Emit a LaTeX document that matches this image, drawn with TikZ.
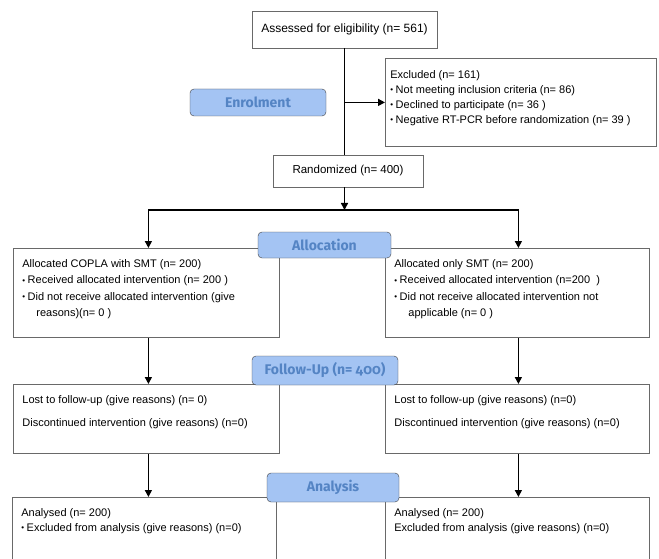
\documentclass[tikz,border=0pt]{standalone}
\usepackage{fontspec}
\setmainfont{Liberation Sans}
\newfontfamily\stagefont[Numbers=OldStyle]{Fira Sans}
\usetikzlibrary{arrows.meta}
\definecolor{StageFill}{RGB}{164,196,243}
\definecolor{StageText}{RGB}{84,132,196}
\definecolor{BoxLine}{RGB}{105,105,105}
\newcommand{\bul}{\raisebox{0.6pt}{\fontsize{8}{8}\selectfont\textbullet}\hspace{2.5pt}}
\newcommand{\boxtext}[3]{\begin{minipage}[c][#2pt][t]{#1pt}\raggedright\leftskip=9pt
  \vspace*{11pt}#3\end{minipage}}

\begin{document}
\begin{tikzpicture}[
    x=1pt, y=-1pt,
    font=\fontsize{11}{15}\selectfont,
    box/.style={
        draw=BoxLine,
        line width=0.8pt,
        fill=white,
        inner sep=0pt,
        anchor=north west
    },
    single/.style={
        draw=BoxLine,
        line width=0.8pt,
        fill=white,
        align=center
    },
    stage/.style={
        draw=black!75,
        fill=StageFill,
        rounded corners=4pt,
        text=StageText,
        font=\stagefont\bfseries\fontsize{14}{16}\selectfont
    },
    arr/.style={
        line width=1.5pt,
        -{Triangle[length=7pt,width=7pt]}
    }
]
\useasboundingbox (0,0) rectangle (659,559);
\clip (0,0) rectangle (659,559);

% Enrolment
\node[single, minimum width=185, minimum height=37,
      font=\fontsize{12}{14}\selectfont] (assess) at (344.5,29.5)
      {Assessed for eligibility (n= 561)};

\node[box] (excl) at (385,58)
      {\boxtext{271}{88}{\vspace*{1pt}\hspace*{-4pt}Excluded (n= 161)\\
       \hspace*{-4pt}\bul Not meeting inclusion criteria (n= 86)\\
       \hspace*{-4pt}\bul Declined to participate (n= 36 )\\
       \hspace*{-4pt}\bul Negative RT-PCR before randomization (n= 39 )}};

\node[single, minimum width=150, minimum height=32,
      font=\fontsize{11.5}{14}\selectfont] (rand) at (348,171)
      {Randomized (n= 400)};

% Allocation
\node[box] (allocL) at (13,248)
      {\boxtext{266}{89}{Allocated COPLA with SMT (n= 200)\\[1.5pt]
       \bul Received allocated intervention (n= 200 )\\[1.5pt]
       \bul Did not receive allocated intervention (give\\[1.5pt]
       \hspace*{14pt}reasons)(n= 0 )}};

\node[box] (allocR) at (385,248)
      {\boxtext{264}{89}{Allocated only SMT (n= 200)\\[1.5pt]
       \bul Received allocated intervention (n=200 \ )\\[1.5pt]
       \bul Did not receive allocated intervention not\\[1.5pt]
       \hspace*{14pt}applicable (n= 0 )}};

% Follow-up
\node[box] (fuL) at (13,384)
      {\boxtext{266}{69}{Lost to follow-up (give reasons) (n= 0)\\[8pt]
       Discontinued intervention (give reasons) (n=0)}};

\node[box] (fuR) at (385,384)
      {\boxtext{264}{69}{Lost to follow-up (give reasons) (n=0)\\[8pt]
       Discontinued intervention (give reasons) (n=0)}};

% Analysis
\node[box] (anL) at (12,497)
      {\boxtext{264}{80}{Analysed (n= 200)\\
       \bul Excluded from analysis (give reasons) (n=0)}};

\node[box] (anR) at (385,497)
      {\boxtext{264}{80}{Analysed (n= 200)\\
       Excluded from analysis (give reasons) (n=0)}};

% Connectors
\coordinate (split) at (344.5,210);
\draw[line width=1.5pt] (assess.south) -- (assess.south |- rand.north);
\draw[arr] (assess.south |- excl.west) -- (excl.west);
\draw[arr] (assess.south |- rand.south) -- (split);
\draw[arr] (split) -| ([xshift=2pt]allocL.north);
\draw[arr] (split) -| ([xshift=1pt]allocR.north);
\draw[arr] ([xshift=2pt]allocL.south) -- ([xshift=2pt]fuL.north);
\draw[arr] ([xshift=1pt]allocR.south) -- ([xshift=1pt]fuR.north);
\draw[arr] ([xshift=2pt]fuL.south) -- ([xshift=4pt]anL.north);
\draw[arr] ([xshift=1pt]fuR.south) -- ([xshift=1pt]anR.north);

% Stage labels
\node[stage, minimum width=136, minimum height=27] (enrol) at (258,102.5) {Enrolment};
\node[stage, minimum width=133, minimum height=26] (alloc) at (324.5,245) {Allocation};
\node[stage, minimum width=146, minimum height=29] (follow) at (325,370.5) {Follow-Up (n= 400)};
\node[stage, minimum width=132, minimum height=29] (anal) at (333,487.5) {Analysis};

\end{tikzpicture}
\end{document}
